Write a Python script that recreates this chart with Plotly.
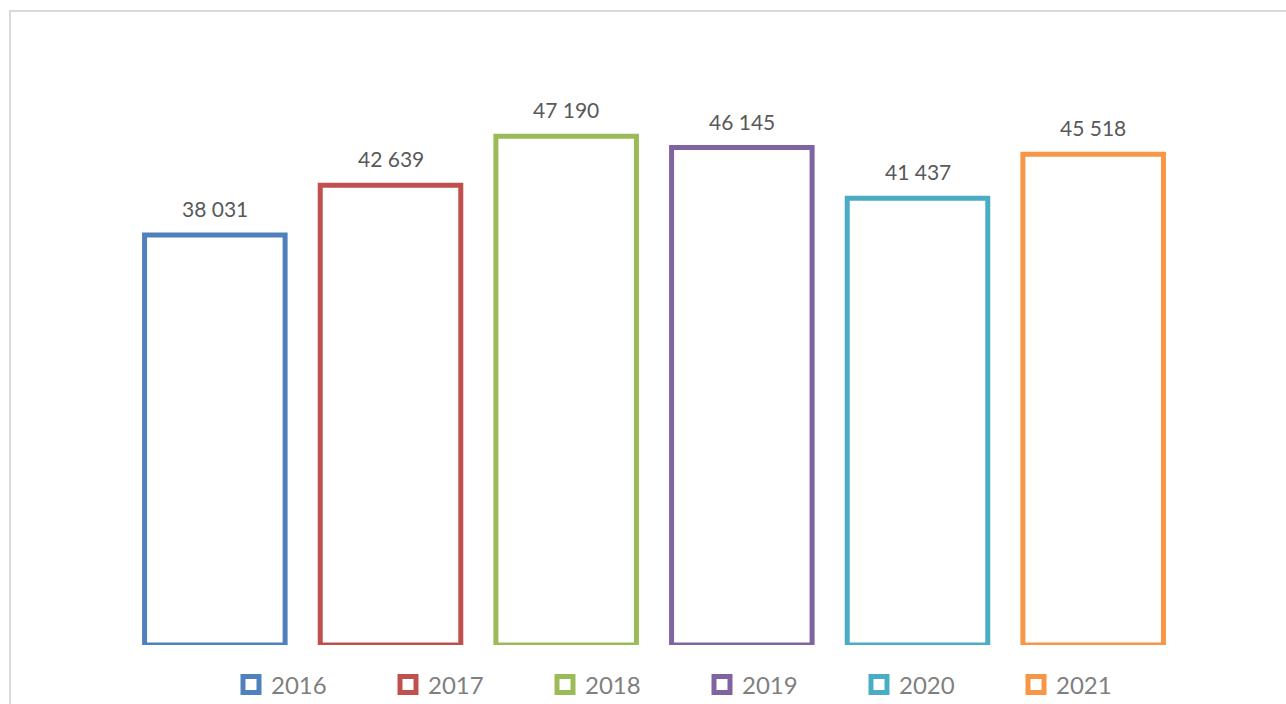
import plotly.graph_objects as go

# Annual totals, one outlined bar per year
years = ["2016", "2017", "2018", "2019", "2020", "2021"]
values = [38031, 42639, 47190, 46145, 41437, 45518]
colors = ["#4F81BD", "#C0504D", "#9BBB59", "#8064A2", "#4BACC6", "#F79646"]

W, H = 1286, 704
L, R, T, B = 127, 105, 106, 59
plot_w = W - L - R
plot_h = H - T - B
Y_MAX = 50000
FONT = "Lato, Open Sans, sans-serif"


def fmt(v):
    return f"{v:,}".replace(",", " ")


fig = go.Figure()
for yr, v, c in zip(years, values, colors):
    fig.add_trace(go.Bar(
        x=[yr], y=[v], name=yr, legendgroup=yr, showlegend=False,
        width=0.8,
        marker=dict(color="white", line=dict(color=c, width=5)),
        hoverinfo="x+y",
    ))

# legend keys: open squares in each year's colour
for yr, c in zip(years, colors):
    fig.add_trace(go.Scatter(
        x=[yr], y=[None], name=yr, legendgroup=yr, mode="markers",
        marker=dict(symbol="square", size=16, color="white",
                    line=dict(color=c, width=5)),
        hoverinfo="skip",
    ))

# value labels above each bar
for i, v in enumerate(values):
    fig.add_annotation(
        x=i, y=v, text=fmt(v), showarrow=False,
        yanchor="bottom", yshift=12,
        font=dict(family=FONT, size=21, color="#595959"),
    )


def px_x(p):
    return (p - L) / plot_w


def px_y(p):
    return (H - B - p) / plot_h


# light chart-area frame
fig.add_shape(
    type="rect", xref="paper", yref="paper",
    x0=px_x(10), x1=px_x(W + 20), y0=px_y(H + 20), y1=px_y(11),
    line=dict(color="#D9D9D9", width=2), fillcolor="rgba(0,0,0,0)", layer="below",
)

fig.update_layout(
    width=W, height=H,
    margin=dict(l=L, r=R, t=T, b=B, autoexpand=False),
    paper_bgcolor="white", plot_bgcolor="white",
    barmode="overlay",
    showlegend=True,
    legend=dict(
        orientation="h", xref="container", yref="container",
        x=231 / W, xanchor="left",
        y=(H - 685) / H, yanchor="middle",
        entrywidth=112, entrywidthmode="pixels",
        font=dict(family=FONT, size=24, color="#7F7F7F"),
        bgcolor="rgba(0,0,0,0)", traceorder="normal",
    ),
    xaxis=dict(
        type="category", categoryorder="array", categoryarray=years,
        range=[-0.5, 5.5],
        showticklabels=False, showgrid=False, zeroline=False, showline=False,
        ticks="", fixedrange=True,
    ),
    yaxis=dict(
        range=[0, Y_MAX], visible=False, showgrid=False, zeroline=False,
        fixedrange=True,
    ),
)

fig.write_html("out.html")
